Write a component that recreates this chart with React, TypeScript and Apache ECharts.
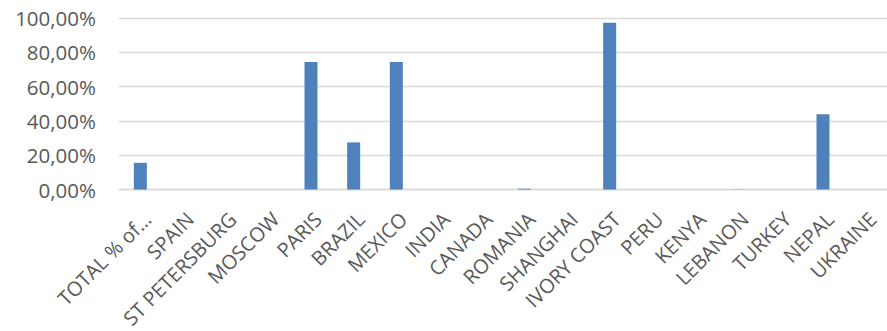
import React, { useEffect, useRef } from "react";
import * as echarts from "echarts";

const categories = [
  "TOTAL % of…", "SPAIN", "ST PETERSBURG", "MOSCOW", "PARIS", "BRAZIL", "MEXICO",
  "INDIA", "CANADA", "ROMANIA", "SHANGHAI", "IVORY COAST", "PERU", "KENYA",
  "LEBANON", "TURKEY", "NEPAL", "UKRAINE",
];
const values = [
  0.156, 0, 0, 0, 0.743, 0.275, 0.743,
  0, 0, 0.005, 0, 0.973, 0, 0,
  0.001, 0, 0.439, 0,
];
const yTicks = { min: 0, max: 1, interval: 0.2 };

const FONT = "Open Sans";
const TEXT = "#595959";

export default function App() {
  const ref = useRef<HTMLDivElement>(null);
  useEffect(() => {
    if (!ref.current) return;
    const chart = echarts.init(ref.current, undefined, { renderer: "svg" });
    chart.setOption({
      animation: false,
      grid: { left: 119, top: 18, width: 779, height: 173, containLabel: false },
      xAxis: {
        type: "category",
        data: categories,
        axisLine: { show: true, lineStyle: { color: "#D9D9D9", width: 1.3 } },
        axisTick: { show: false },
        axisLabel: {
          interval: 0,
          rotate: 45,
          color: TEXT,
          fontFamily: FONT,
          fontSize: 20,
          verticalAlign: "top",
          margin: 19,
        },
      },
      yAxis: {
        type: "value",
        min: yTicks.min,
        max: yTicks.max,
        interval: yTicks.interval,
        axisLine: { show: false },
        axisTick: { show: false },
        splitLine: { lineStyle: { color: "#D9D9D9", width: 1.3 } },
        axisLabel: {
          color: TEXT,
          fontFamily: FONT,
          fontSize: 20.5,
          margin: 23,
          formatter: (v: number) => (v * 100).toFixed(2).replace(".", ",") + "%",
        },
      },
      series: [
        {
          type: "bar",
          data: values,
          barWidth: 13,
          itemStyle: { color: "#4F81BD" },
        },
      ],
    });
    return () => chart.dispose();
  }, []);
  return (
    <div
      ref={ref}
      style={{ position: "fixed", left: 0, top: 0, width: 887, height: 331, background: "#fff" }}
    />
  );
}
